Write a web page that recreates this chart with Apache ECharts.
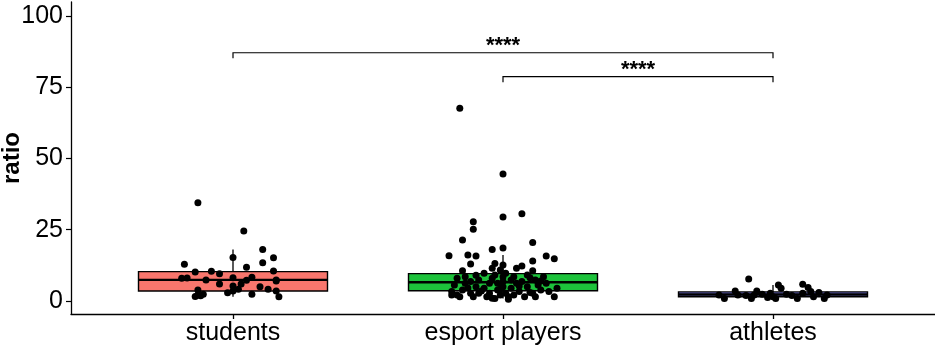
<!DOCTYPE html>
<html>
<head>
<meta charset="utf-8">
<script src="https://cdn.jsdelivr.net/npm/echarts@6/dist/echarts.min.js"></script>
<style>
html,body{margin:0;padding:0;background:#fff;}
#chart{width:935px;height:355px;}
</style>
</head>
<body>
<div id="chart"></div>
<script>
// ---------- data ----------
const categories = ['students', 'esport players', 'athletes'];
const yTicks = [0, 25, 50, 75, 100];

// box statistics per category
const boxLow    = [1.5, 0.9, 0.9];
const boxQ1     = [3.5, 3.6, 1.5];
const boxMedian = [7.4, 6.6, 2.3];
const boxQ3     = [10.3, 9.6, 3.2];
const boxHigh   = [18.1, 16.1, 5.6];
const boxFill   = ['#F8766D', '#1DC23B', '#7272D2'];

// jittered points: [horizontal jitter (category units), ratio]
const studentsPoints = [
  [-0.13, 34.5], [0.04, 24.6], [0.11, 18.1], [0.00, 15.3], [0.15, 15.2], [0.11, 13.4],
  [-0.18, 12.9], [0.05, 11.8], [0.15, 10.5], [-0.14, 10.2], [-0.08, 10.4], [-0.05, 9.6],
  [-0.19, 8.0], [-0.17, 8.1], [-0.10, 7.4], [0.00, 8.2], [0.07, 8.3], [0.05, 7.3],
  [0.16, 7.4], [0.16, 7.0], [-0.05, 6.0], [0.03, 6.0], [0.00, 5.3], [0.10, 5.0],
  [0.13, 4.1], [0.16, 3.5], [0.02, 4.1], [0.00, 3.5], [-0.02, 2.9], [-0.13, 3.9],
  [-0.13, 2.1], [-0.12, 1.8], [-0.11, 2.4], [0.07, 2.4], [0.17, 1.5], [-0.14, 1.6]
];
const esportPoints = [
  [-0.16, 67.6], [0.00, 44.6], [0.00, 29.5], [0.07, 30.6], [-0.11, 27.8], [-0.11, 25.2],
  [-0.15, 21.4], [0.11, 20.5], [-0.04, 18.1], [0.00, 18.6], [-0.20, 15.9], [-0.13, 16.1],
  [-0.10, 15.8], [0.16, 15.8], [0.19, 14.8], [0.11, 14.0], [-0.12, 13.0], [-0.03, 13.2],
  [0.00, 12.6], [0.07, 12.3], [0.05, 11.5], [-0.01, 10.9], [-0.04, 11.5], [-0.15, 10.6],
  [0.11, 10.6],
  [-0.17, 8.0], [-0.14, 8.5], [-0.18, 5.6], [-0.19, 3.3], [-0.17, 2.1], [-0.15, 3.9],
  [-0.12, 6.8], [-0.10, 5.0], [-0.12, 2.7], [-0.09, 7.4], [-0.07, 4.5], [-0.05, 6.2],
  [-0.04, 8.0], [-0.05, 2.7], [-0.03, 9.1], [-0.02, 6.2], [-0.02, 3.9], [-0.03, 0.9],
  [0.00, 8.5], [0.00, 6.8], [0.00, 5.0], [0.01, 2.7], [0.03, 7.4], [0.03, 4.5],
  [0.04, 8.5], [0.05, 6.2], [0.06, 3.3], [0.07, 6.8], [0.09, 9.1], [0.09, 5.0],
  [0.11, 2.7], [0.12, 7.4], [0.13, 5.6], [0.14, 3.9], [0.15, 8.5], [0.16, 6.2],
  [0.17, 3.3], [0.19, 1.5], [0.20, 4.5], [-0.09, 2.7], [-0.07, 9.7], [0.02, 1.5],
  [0.08, 1.5], [-0.11, 1.5], [-0.16, 1.5], [-0.06, 1.5], [0.12, 1.5], [0.04, 2.1],
  [-0.14, 6.2], [0.01, 9.7], [-0.01, 2.1], [-0.08, 3.5], [0.10, 3.0], [-0.01, 4.2],
  [0.06, 5.3], [-0.13, 4.6], [0.14, 7.0], [0.02, 0.6], [-0.04, 1.0], [0.10, 8.2],
  [-0.10, 9.0], [-0.19, 2.1]
];
const athletesPoints = [
  [-0.09, 7.7], [0.02, 5.6], [0.03, 4.5], [0.11, 5.9], [0.13, 4.7], [0.14, 3.3],
  [-0.14, 3.5], [-0.06, 3.5], [-0.20, 2.1], [-0.10, 1.9], [-0.08, 0.9], [-0.07, 2.1],
  [-0.01, 2.7], [0.00, 1.5], [0.01, 0.9], [0.05, 2.4], [0.09, 0.9], [0.11, 2.7],
  [0.17, 3.0], [0.19, 0.9], [0.20, 2.1], [-0.18, 0.9], [-0.13, 2.1], [-0.04, 2.4],
  [-0.02, 1.2], [0.15, 1.5], [0.07, 1.9]
];
const groupPoints = [studentsPoints, esportPoints, athletesPoints];

// significance brackets: [from category, to category, bracket level, label]
const brackets = [
  [0, 2, 87.1, '****'],
  [1, 2, 78.7, '****']
];

// ---------- chart ----------
const FONT = '"Liberation Sans", Arial, Helvetica, sans-serif';
const Y_MIN = -4.56, Y_MAX = 104.9;
const categoryIndex = categories.map((c, i) => i);
const chart = echarts.init(document.getElementById('chart'), null, {renderer: 'canvas'});

const boxData = categories.map((c, i) => [i, boxLow[i], boxQ1[i], boxMedian[i], boxQ3[i], boxHigh[i]]);

const scatterSeries = groupPoints.map((pts, gi) => ({
  type: 'scatter',
  xAxisIndex: 1,
  yAxisIndex: 1,
  symbol: 'circle',
  symbolSize: 7,
  itemStyle: {color: '#000', opacity: 1},
  z: 5,
  silent: true,
  data: pts.map(p => [gi + p[0], p[1]])
}));

const option = {
  animation: false,
  backgroundColor: '#fff',
  grid: [
    {left: 71, right: 0, top: 2, bottom: 41, containLabel: false, outerBoundsMode: 'none'},
    {left: 98, right: 27, top: 2, bottom: 41, containLabel: false, outerBoundsMode: 'none'}
  ],
  xAxis: [
    {gridIndex: 0, type: 'value', min: 0, max: 1,
     axisLine: {show: true, onZero: false, lineStyle: {color: '#000', width: 1.3}},
     axisTick: {show: false}, axisLabel: {show: false}, splitLine: {show: false}},
    {gridIndex: 1, type: 'value', min: -0.5, max: 2.5, position: 'bottom',
     axisLine: {show: false, onZero: false},
     axisTick: {show: false},
     axisLabel: {show: true, customValues: categoryIndex, formatter: v => categories[Math.round(v)],
                 fontSize: 25, color: '#000', fontFamily: FONT, margin: 7},
     splitLine: {show: false}}
  ],
  yAxis: [
    {gridIndex: 0, type: 'value', min: Y_MIN, max: Y_MAX,
     name: 'ratio', nameLocation: 'middle', nameGap: 47, nameRotate: 90, nameMoveOverlap: false,
     nameTextStyle: {fontSize: 24, fontWeight: 'bold', color: '#000', fontFamily: FONT},
     axisLine: {show: true, onZero: false, lineStyle: {color: '#000', width: 1.3}},
     axisTick: {show: true, length: 5, customValues: yTicks, lineStyle: {color: '#000', width: 1.2}},
     axisLabel: {show: true, customValues: yTicks, fontSize: 25, color: '#000', fontFamily: FONT, margin: 8},
     splitLine: {show: false}},
    {gridIndex: 1, type: 'value', min: Y_MIN, max: Y_MAX, show: false}
  ],
  series: [
    {
      type: 'custom',
      xAxisIndex: 1,
      yAxisIndex: 1,
      z: 2,
      silent: true,
      data: boxData,
      renderItem: function (params, api) {
        const i = api.value(0);
        const halfW = 0.35;
        const pLow = api.coord([i, api.value(1)]);
        const pQ1 = api.coord([i, api.value(2)]);
        const pMed = api.coord([i, api.value(3)]);
        const pQ3 = api.coord([i, api.value(4)]);
        const pHigh = api.coord([i, api.value(5)]);
        const left = api.coord([i - halfW, 0])[0];
        const right = api.coord([i + halfW, 0])[0];
        return {
          type: 'group',
          children: [
            {type: 'line', shape: {x1: pQ3[0], y1: pQ3[1], x2: pHigh[0], y2: pHigh[1]},
             style: {stroke: '#000', lineWidth: 1.3}},
            {type: 'line', shape: {x1: pQ1[0], y1: pQ1[1], x2: pLow[0], y2: pLow[1]},
             style: {stroke: '#000', lineWidth: 1.3}},
            {type: 'rect', shape: {x: left, y: pQ3[1], width: right - left, height: pQ1[1] - pQ3[1]},
             style: {fill: boxFill[params.dataIndex], stroke: '#000', lineWidth: 1.4}},
            {type: 'line', shape: {x1: left, y1: pMed[1], x2: right, y2: pMed[1]},
             style: {stroke: '#000', lineWidth: 2.4}}
          ]
        };
      }
    },
    // category tick marks below the x axis line
    {
      type: 'custom',
      xAxisIndex: 1,
      yAxisIndex: 1,
      z: 3,
      silent: true,
      clip: false,
      data: categoryIndex.map(i => [i, Y_MIN]),
      renderItem: function (params, api) {
        const p = api.coord([api.value(0), api.value(1)]);
        const x = Math.round(p[0]) + 0.5;
        return {type: 'line', shape: {x1: x, y1: p[1], x2: x, y2: p[1] + 5},
                style: {stroke: '#000', lineWidth: 1.3}};
      }
    },
    ...scatterSeries,
    {
      type: 'custom',
      xAxisIndex: 1,
      yAxisIndex: 1,
      z: 6,
      silent: true,
      data: brackets,
      renderItem: function (params, api) {
        const a = api.coord([api.value(0), api.value(2)]);
        const b = api.coord([api.value(1), api.value(2)]);
        const tail = 5.5;
        return {
          type: 'group',
          children: [
            {type: 'polyline',
             shape: {points: [[a[0], a[1] + tail], [a[0], a[1]], [b[0], b[1]], [b[0], b[1] + tail]]},
             style: {stroke: '#000', lineWidth: 1.2, fill: null}},
            {type: 'text',
             style: {text: brackets[params.dataIndex][3], x: (a[0] + b[0]) / 2, y: a[1] - 7,
                     align: 'center', verticalAlign: 'middle',
                     font: 'bold 22px ' + FONT, fill: '#000'}}
          ]
        };
      }
    }
  ]
};
chart.setOption(option);
</script>
</body>
</html>
